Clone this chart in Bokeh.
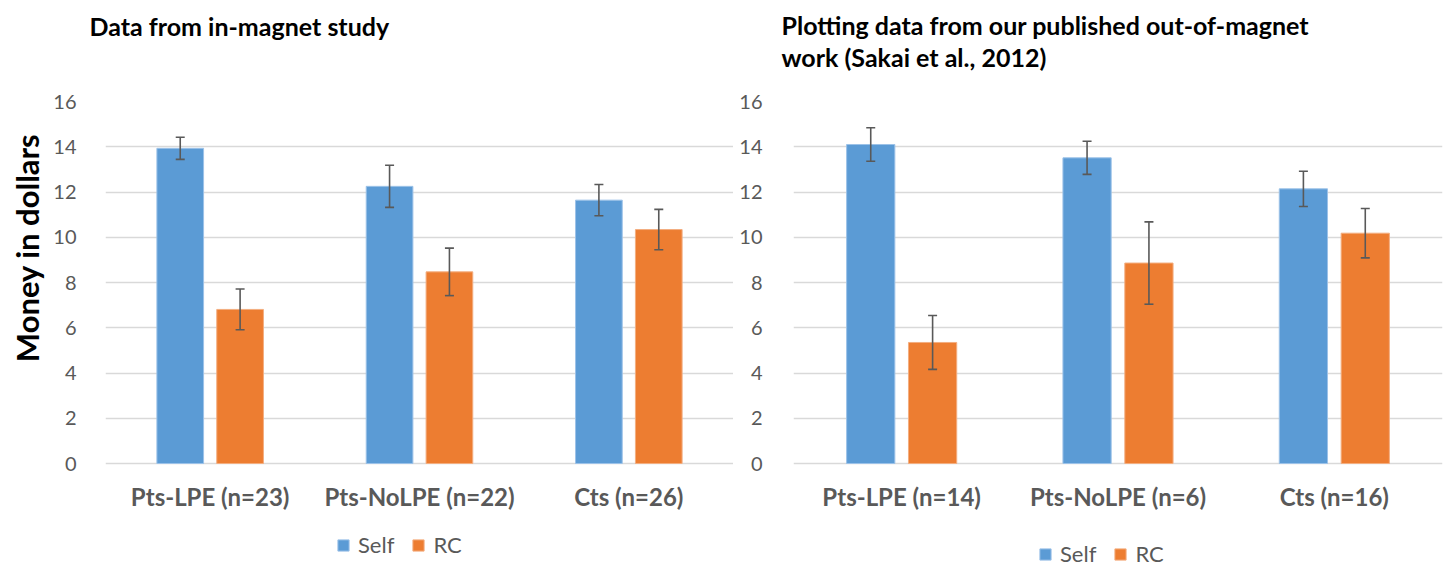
from bokeh.plotting import figure
from bokeh.models import (FactorRange, Range1d, ColumnDataSource, Whisker, TeeHead,
                          Legend, LegendItem, Title, FixedTicker)
from bokeh.transform import dodge
from bokeh.layouts import row
from bokeh.embed import file_html
from bokeh.resources import INLINE

# ---------------- data ----------------
series = ["Self", "RC"]
y_ticks = [0, 2, 4, 6, 8, 10, 12, 14, 16]

cats_in = ["Pts-LPE (n=23)", "Pts-NoLPE (n=22)", "Cts (n=26)"]
self_in = [13.93, 12.25, 11.64]
self_in_err = [0.49, 0.93, 0.69]
rc_in = [6.81, 8.47, 10.34]
rc_in_err = [0.90, 1.05, 0.89]

cats_out = ["Pts-LPE (n=14)", "Pts-NoLPE (n=6)", "Cts (n=16)"]
self_out = [14.10, 13.51, 12.14]
self_out_err = [0.74, 0.73, 0.78]
rc_out = [5.35, 8.86, 10.18]
rc_out_err = [1.19, 1.82, 1.09]

title_in = ["Data from in-magnet study"]
title_out = ["Plotting data from our published out-of-magnet", "work (Sakai et al., 2012)"]
y_label = "Money in dollars"

# ---------------- style / layout ----------------
BLUE = "#5B9BD5"
ORANGE = "#ED7D31"
BLUE_EDGE = "#9CC2E8"
ORANGE_EDGE = "#F3AE80"
GRAY = "#595959"
GRID = "#D9D9D9"
FONT = "Lato"
BAR_W = 0.223
OFF = 0.143
HEIGHT = 568
TOP = 101          # page y of value 16
ZERO = 463         # page y of value 0
Y_MAX = 16
# the frame runs to the bottom of the canvas so that labels/legend below 0 stay visible
Y_MIN = -Y_MAX * (HEIGHT - ZERO) / (ZERO - TOP)


def style_title(tt, offset):
    tt.align = "left"
    tt.offset = offset
    tt.standoff = 0
    tt.text_font = FONT
    tt.text_font_style = "bold"
    tt.text_font_size = "25px"
    tt.text_color = "black"


def make_panel(cats, s_vals, s_err, r_vals, r_err, width, b_left, b_right,
               titles, title_offset, title_gap, legend_loc, tick_standoff,
               ylabel=None):
    p = figure(width=width, height=HEIGHT, x_range=FactorRange(*cats),
               y_range=Range1d(Y_MIN, Y_MAX), output_backend="svg", toolbar_location=None,
               min_border_left=b_left, min_border_right=b_right,
               min_border_top=TOP, min_border_bottom=0)
    p.outline_line_color = None
    p.background_fill_color = "white"
    p.border_fill_color = "white"

    src = ColumnDataSource(dict(
        cat=cats, self_v=s_vals, rc_v=r_vals,
        self_up=[v + e for v, e in zip(s_vals, s_err)],
        self_lo=[v - e for v, e in zip(s_vals, s_err)],
        rc_up=[v + e for v, e in zip(r_vals, r_err)],
        rc_lo=[v - e for v, e in zip(r_vals, r_err)],
    ))

    r1 = p.vbar(x=dodge("cat", -OFF, range=p.x_range), top="self_v", width=BAR_W,
                source=src, fill_color=BLUE, line_color=BLUE_EDGE, line_width=1)
    r2 = p.vbar(x=dodge("cat", OFF, range=p.x_range), top="rc_v", width=BAR_W,
                source=src, fill_color=ORANGE, line_color=ORANGE_EDGE, line_width=1)

    for off, up, lo in [(-OFF, "self_up", "self_lo"), (OFF, "rc_up", "rc_lo")]:
        w = Whisker(source=src, base=dodge("cat", off, range=p.x_range),
                    upper=up, lower=lo, line_color=GRAY, line_width=1.6, level="overlay",
                    upper_head=TeeHead(size=9, line_color=GRAY, line_width=1.6),
                    lower_head=TeeHead(size=9, line_color=GRAY, line_width=1.6))
        p.add_layout(w)

    # y axis
    p.yaxis.ticker = FixedTicker(ticks=y_ticks)
    p.yaxis.axis_line_color = None
    p.yaxis.major_tick_line_color = None
    p.yaxis.minor_tick_line_color = None
    p.yaxis.major_label_text_color = GRAY
    p.yaxis.major_label_text_font = FONT
    p.yaxis.major_label_text_font_size = "20px"
    p.yaxis.major_label_standoff = tick_standoff
    if ylabel:
        yl = Title(text=ylabel, align="right", offset=32, standoff=9,
                   text_font=FONT, text_font_style="bold", text_font_size="31px",
                   text_color="black")
        p.add_layout(yl, "left")

    # x axis drawn at value 0
    p.xaxis.fixed_location = 0
    p.xaxis.axis_line_color = None
    p.xaxis.major_tick_line_color = None
    p.xaxis.minor_tick_line_color = None
    p.xaxis.major_label_text_color = GRAY
    p.xaxis.major_label_text_font = FONT
    p.xaxis.major_label_text_font_style = "bold"
    p.xaxis.major_label_text_font_size = "24px"
    p.xaxis.major_label_standoff = 12

    p.xgrid.grid_line_color = None
    p.ygrid.grid_line_color = GRID
    p.ygrid.grid_line_width = 1.4

    # titles: a thin spacer sits next to the frame, then the lines (last line closest)
    spacer = Title(text=" ", text_font_size="2px", standoff=title_gap)
    p.add_layout(spacer, "above")
    for t in reversed(titles[1:]):
        tt = Title(text=t)
        style_title(tt, title_offset)
        p.add_layout(tt, "above")
    p.title.text = titles[0]
    style_title(p.title, title_offset)

    legend = Legend(items=[LegendItem(label=series[0], renderers=[r1]),
                           LegendItem(label=series[1], renderers=[r2])],
                    location=legend_loc, orientation="horizontal",
                    border_line_color=None, background_fill_alpha=0,
                    padding=0, margin=0, glyph_width=14, glyph_height=14,
                    label_standoff=8, spacing=17, label_height=20,
                    label_text_font=FONT, label_text_font_size="22px",
                    label_text_color=GRAY)
    p.add_layout(legend)
    return p


p1 = make_panel(cats_in, self_in, self_in_err, rc_in, rc_in_err,
                width=733, b_left=105, b_right=0,
                titles=title_in, title_offset=-16, title_gap=57,
                legend_loc=(231, 10), tick_standoff=23, ylabel=y_label)
p2 = make_panel(cats_out, self_out, self_out_err, rc_out, rc_out_err,
                width=713, b_left=60, b_right=4,
                titles=title_out, title_offset=-12, title_gap=26,
                legend_loc=(245, 1), tick_standoff=25)

layout = row(p1, p2)
open("out.html", "w").write(file_html(layout, INLINE))
